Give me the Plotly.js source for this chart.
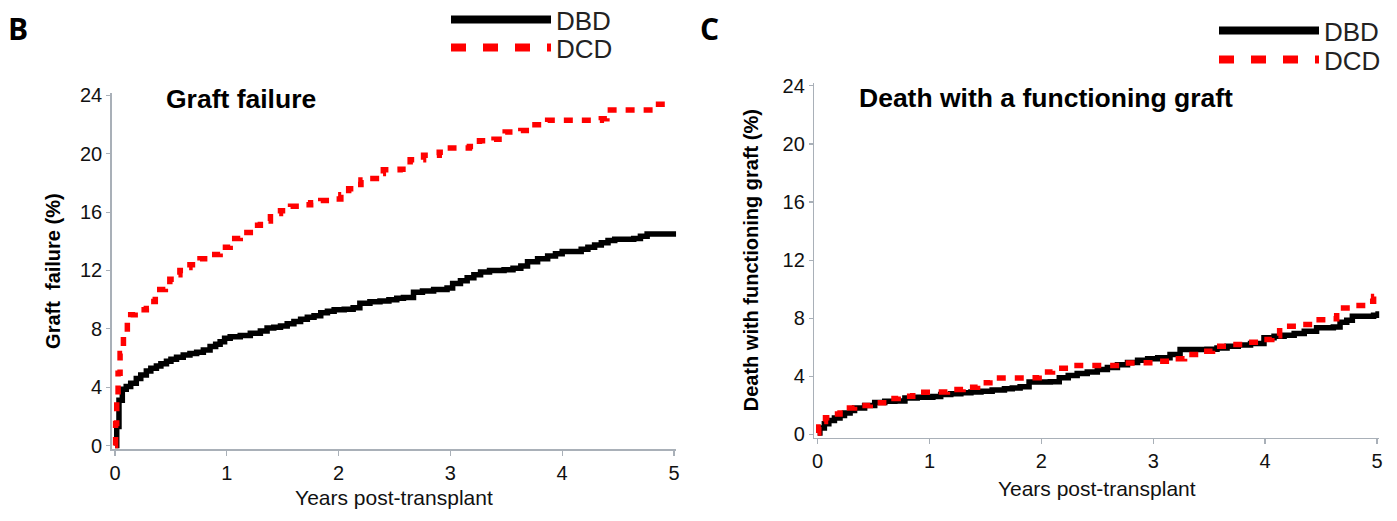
<!DOCTYPE html>
<html>
<head>
<meta charset="utf-8">
<script src="https://cdn.plot.ly/plotly-3.0.1.min.js"></script>
<style>html,body{margin:0;padding:0;background:#fff;}#chart{width:1397px;height:521px;}</style>
</head>
<body>
<div id="chart"></div>
<script>
// ---------- Data ----------
const seriesNames = ["DBD", "DCD"];
const xTickVals = [0, 1, 2, 3, 4, 5];
const yTickVals = [0, 4, 8, 12, 16, 20, 24];

// Panel B: Graft failure (%)
const graftDBD_t = [0, 0.015, 0.035, 0.065, 0.10, 0.14, 0.19, 0.23, 0.28, 0.32, 0.37, 0.41, 0.46, 0.50, 0.55, 0.61, 0.67, 0.73, 0.79, 0.85, 0.90, 0.94, 0.98, 1.03, 1.12, 1.21, 1.30, 1.36, 1.42, 1.48, 1.54, 1.60, 1.66, 1.72, 1.78, 1.84, 1.90, 1.96, 2.05, 2.13, 2.19, 2.28, 2.37, 2.45, 2.52, 2.58, 2.67, 2.75, 2.85, 2.97, 3.02, 3.09, 3.15, 3.21, 3.27, 3.35, 3.48, 3.56, 3.63, 3.69, 3.78, 3.87, 3.94, 4.00, 4.10, 4.17, 4.23, 4.29, 4.35, 4.41, 4.47, 4.64, 4.70, 4.76, 5.02];
const graftDBD_v = [0, 1.3, 3.1, 3.86, 4.05, 4.27, 4.6, 4.84, 5.1, 5.3, 5.45, 5.6, 5.78, 5.92, 6.05, 6.2, 6.3, 6.4, 6.55, 6.78, 6.95, 7.12, 7.35, 7.45, 7.55, 7.7, 7.85, 8.05, 8.1, 8.2, 8.35, 8.5, 8.65, 8.8, 8.9, 9.1, 9.2, 9.3, 9.35, 9.45, 9.75, 9.85, 9.9, 10.0, 10.1, 10.15, 10.5, 10.6, 10.7, 10.8, 11.1, 11.3, 11.5, 11.7, 11.9, 12.0, 12.05, 12.15, 12.3, 12.6, 12.8, 13.0, 13.15, 13.3, 13.3, 13.45, 13.6, 13.75, 13.9, 14.05, 14.15, 14.2, 14.35, 14.5, 14.5];

const graftDCD_t = [0, 0.005, 0.015, 0.027, 0.045, 0.075, 0.11, 0.14, 0.18, 0.23, 0.28, 0.32, 0.36, 0.40, 0.45, 0.49, 0.54, 0.58, 0.63, 0.67, 0.72, 0.76, 0.85, 0.94, 1.03, 1.12, 1.21, 1.30, 1.39, 1.48, 1.57, 1.66, 1.75, 1.84, 1.96, 2.02, 2.09, 2.15, 2.20, 2.28, 2.37, 2.40, 2.55, 2.64, 2.76, 2.90, 3.00, 3.17, 3.26, 3.39, 3.49, 3.63, 3.72, 3.87, 4.35, 4.40, 4.82, 4.99];
const graftDCD_v = [0, 1.5, 3.35, 4.95, 6.3, 7.47, 8.5, 8.96, 9.15, 9.3, 9.4, 9.87, 10.2, 10.7, 11.0, 11.4, 11.7, 12.0, 12.2, 12.4, 12.6, 12.8, 13.1, 13.6, 14.2, 14.6, 15.1, 15.4, 15.9, 16.1, 16.4, 16.5, 16.65, 16.8, 16.9, 17.2, 17.6, 17.9, 18.2, 18.3, 18.65, 18.9, 18.95, 19.6, 19.9, 20.1, 20.4, 20.5, 20.9, 21.0, 21.5, 21.6, 22.0, 22.3, 22.4, 23.0, 23.4, 23.4];

// Panel C: Death with functioning graft (%)
const deathDBD_t = [0, 0.02, 0.06, 0.10, 0.15, 0.20, 0.24, 0.29, 0.33, 0.42, 0.51, 0.60, 0.69, 0.78, 0.89, 1.03, 1.10, 1.19, 1.28, 1.37, 1.46, 1.56, 1.67, 1.74, 1.81, 1.89, 2.08, 2.16, 2.24, 2.32, 2.41, 2.50, 2.59, 2.68, 2.77, 2.86, 2.95, 3.04, 3.15, 3.24, 3.48, 3.57, 3.66, 3.76, 3.87, 3.99, 4.08, 4.17, 4.26, 4.35, 4.46, 4.61, 4.67, 4.73, 4.78, 4.97, 5.01];
const deathDBD_v = [0.1, 0.43, 0.73, 0.95, 1.12, 1.3, 1.47, 1.65, 1.82, 1.98, 2.2, 2.28, 2.3, 2.51, 2.56, 2.6, 2.74, 2.8, 2.86, 2.92, 2.97, 3.05, 3.14, 3.2, 3.28, 3.6, 3.62, 3.9, 4.05, 4.19, 4.3, 4.46, 4.6, 4.8, 4.95, 5.1, 5.2, 5.27, 5.5, 5.84, 5.86, 5.95, 6.07, 6.15, 6.26, 6.65, 6.75, 6.83, 6.95, 7.1, 7.34, 7.4, 7.72, 7.86, 8.14, 8.2, 8.48];

const deathDCD_t = [0, 0.01, 0.03, 0.07, 0.11, 0.20, 0.33, 0.47, 0.59, 0.72, 0.85, 1.01, 1.16, 1.30, 1.43, 1.54, 1.86, 1.98, 2.10, 2.26, 2.60, 2.72, 2.90, 3.04, 3.17, 3.28, 3.42, 3.53, 3.66, 3.81, 3.96, 4.06, 4.13, 4.28, 4.43, 4.58, 4.64, 4.79, 4.91, 4.97, 5.0];
const deathDCD_v = [0.1, 0.5, 0.89, 1.15, 1.4, 1.82, 1.98, 2.17, 2.47, 2.63, 2.9, 2.92, 3.09, 3.25, 3.55, 3.88, 3.9, 4.29, 4.55, 4.74, 4.75, 4.92, 4.93, 5.03, 5.2, 5.5, 5.72, 6.07, 6.19, 6.34, 6.53, 6.8, 7.45, 7.57, 7.9, 7.96, 8.7, 8.87, 9.17, 9.5, 9.79];

// Text
const panelLetters = ["B", "C"];
const panelTitles = ["Graft failure", "Death with a functioning graft"];
const yTitles = ["Graft  failure (%)", "Death with functioning graft (%)"];
const xTitle = "Years post-transplant";

// ---------- Styles ----------
const FONT = "'Liberation Sans', Arial, sans-serif";
const AXIS_GRAY = "#a9b0b8";
const dbdLine = {color: "#000000", width: 5.5, shape: "hv"};
const dcdLine = {color: "#ff0000", width: 5.5, shape: "hv", dash: "9px,9px"};
const dbdLegLine = {color: "#000000", width: 8};
const dcdLegLine = {color: "#ff0000", width: 8, dash: "15px,17px"};

function dataTrace(x, y, line, xa, ya) {
  return {type: "scatter", mode: "lines", x: x, y: y, line: line,
          xaxis: xa, yaxis: ya, showlegend: false, hoverinfo: "x+y"};
}
function legendTrace(name, line, xa, ya, leg) {
  return {type: "scatter", mode: "lines", x: [null], y: [null], name: name, line: line,
          xaxis: xa, yaxis: ya, showlegend: true, legend: leg};
}

const traces = [
  dataTrace(graftDBD_t, graftDBD_v, dbdLine, "x", "y"),
  dataTrace(graftDCD_t, graftDCD_v, dcdLine, "x", "y"),
  dataTrace(deathDBD_t, deathDBD_v, dbdLine, "x2", "y2"),
  dataTrace(deathDCD_t, deathDCD_v, dcdLine, "x2", "y2"),
  legendTrace(seriesNames[0], dbdLegLine, "x", "y", "legend"),
  legendTrace(seriesNames[1], dcdLegLine, "x", "y", "legend2"),
  legendTrace(seriesNames[0], dbdLegLine, "x2", "y2", "legend3"),
  legendTrace(seriesNames[1], dcdLegLine, "x2", "y2", "legend4")
];

function xAxis(domain, standoff) {
  return {
    domain: domain, range: [-0.03, 5.02], tickvals: xTickVals, ticktext: xTickVals.map(String),
    showgrid: false, zeroline: false, showline: true, linecolor: AXIS_GRAY, linewidth: 1.5,
    ticks: "outside", ticklen: 5, tickwidth: 1.2, tickcolor: AXIS_GRAY,
    tickfont: {family: FONT, size: 20, color: "#111"},
    title: {text: xTitle, font: {family: FONT, size: 21, color: "#111"}, standoff: standoff},
    fixedrange: true
  };
}
function yAxis(domain, range, title, standoff) {
  return {
    domain: domain, range: range, tickvals: yTickVals, ticktext: yTickVals.map(String),
    showgrid: false, zeroline: false, showline: true, linecolor: AXIS_GRAY, linewidth: 1.5,
    ticks: "outside", ticklen: 4, tickwidth: 1.2, tickcolor: AXIS_GRAY,
    tickfont: {family: FONT, size: 20, color: "#111"},
    title: {text: "<b>" + title + "</b>", font: {family: FONT, size: 20, color: "#000"}, standoff: standoff},
    fixedrange: true
  };
}
function legendBox(left, top) {
  return {
    x: left / W, y: 1 - top / H, xanchor: "left", yanchor: "top",
    bgcolor: "rgba(0,0,0,0)", borderwidth: 0, itemwidth: 100,
    font: {family: FONT, size: 26, color: "#222"}
  };
}

const W = 1397, H = 521;
const layout = {
  width: W, height: H,
  margin: {l: 0, r: 0, t: 0, b: 0, pad: 0, autoexpand: false},
  paper_bgcolor: "#ffffff", plot_bgcolor: "#ffffff",
  font: {family: FONT},
  xaxis: xAxis([111.7 / W, 676.2 / W], 8),
  yaxis: yAxis([(H - 449) / H, (H - 93.3) / H], [-0.24, 24.15], yTitles[0], 14),
  xaxis2: Object.assign(xAxis([814.3 / W, 1379.2 / W], 10), {anchor: "y2"}),
  yaxis2: Object.assign(yAxis([(H - 437.7) / H, (H - 82.7) / H], [-0.23, 24.22], yTitles[1], 18), {anchor: "x2"}),
  legend: legendBox(446, -4),
  legend2: legendBox(446, 24),
  legend3: legendBox(1214, 7),
  legend4: legendBox(1214, 36),
  annotations: [
    {text: "<b>" + panelLetters[0] + "</b>", xref: "paper", yref: "paper", x: 6 / W, y: 1 - 28 / H,
     xanchor: "left", yanchor: "middle", showarrow: false, font: {family: "'Open Sans', sans-serif", size: 30, color: "#000"}},
    {text: "<b>" + panelLetters[1] + "</b>", xref: "paper", yref: "paper", x: 698 / W, y: 1 - 28 / H,
     xanchor: "left", yanchor: "middle", showarrow: false, font: {family: "'Open Sans', sans-serif", size: 30, color: "#000"}},
    {text: "<b>" + panelTitles[0] + "</b>", xref: "paper", yref: "paper", x: 164 / W, y: 1 - 99 / H,
     xanchor: "left", yanchor: "middle", showarrow: false, font: {family: FONT, size: 26.5, color: "#000"}},
    {text: "<b>" + panelTitles[1] + "</b>", xref: "paper", yref: "paper", x: 857 / W, y: 1 - 98 / H,
     xanchor: "left", yanchor: "middle", showarrow: false, font: {family: FONT, size: 26.5, color: "#000"}}
  ],
  showlegend: true
};

Plotly.newPlot("chart", traces, layout, {displayModeBar: false, staticPlot: true});
</script>
</body>
</html>
